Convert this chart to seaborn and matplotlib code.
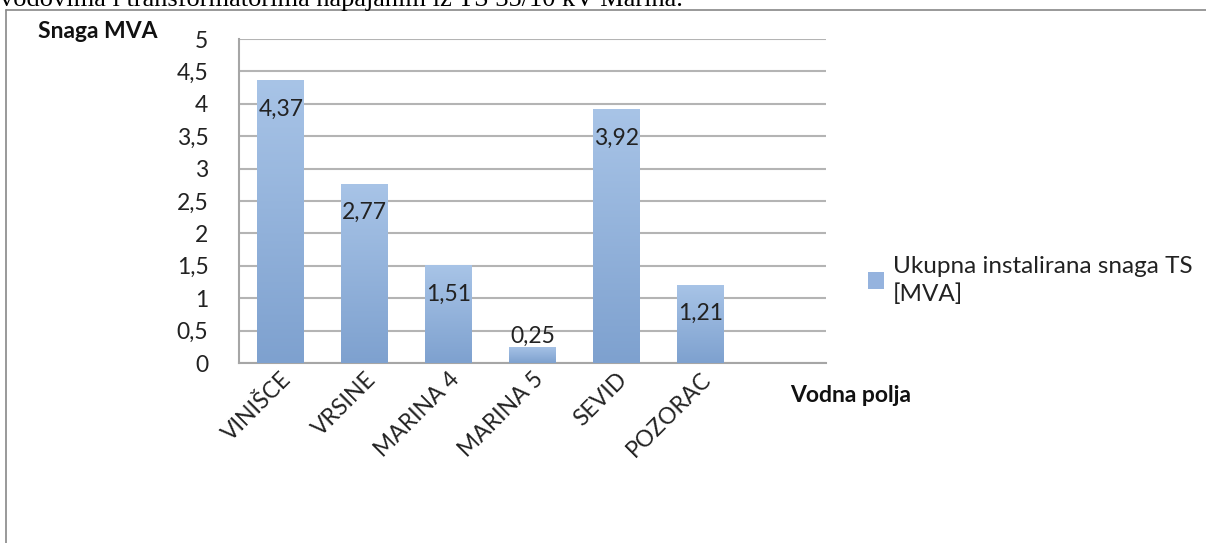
import numpy as np
import pandas as pd
import matplotlib.pyplot as plt
import seaborn as sns
from matplotlib.patches import Patch

# data
polja = ["VINIŠCE", "VRSINE", "MARINA 4", "MARINA 5", "SEVID", "POZORAC"]
snaga = [4.37, 2.77, 1.51, 0.25, 3.92, 1.21]
oznake = ["4,37", "2,77", "1,51", "0,25", "3,92", "1,21"]
y_ticks = [0, 0.5, 1, 1.5, 2, 2.5, 3, 3.5, 4, 4.5, 5]
y_labels = ["0", "0,5", "1", "1,5", "2", "2,5", "3", "3,5", "4", "4,5", "5"]
serija = "Ukupna instalirana snaga TS\n[MVA]"

sns.set_style("white")
plt.rcParams["font.family"] = ["Lato", "DejaVu Sans"]
fs = 16.5

df = pd.DataFrame({"polje": polja, "snaga": snaga})

fig = plt.figure(figsize=(12.06, 5.43), dpi=100)
ax = fig.add_axes([239 / 1206, 1 - 363 / 543, (826 - 239) / 1206, (363 - 39) / 543])

sns.barplot(data=df, x="polje", y="snaga", color="#95b3de", width=0.56,
            saturation=1, ax=ax, zorder=2)

ax.set_xlim(-0.5, 6.5)
ax.set_ylim(0, 5)
ax.set_yticks(y_ticks)
ax.set_yticklabels(y_labels, fontsize=fs, color="#222222")
ax.tick_params(axis="y", length=0, pad=22)
ax.tick_params(axis="x", length=0, pad=4)
ax.set_xticks(range(len(polja)))
ax.set_xticklabels(polja, rotation=45, ha="right", rotation_mode="anchor",
                   fontsize=fs, color="#222222")
ax.set_xlabel("")
ax.set_ylabel("")
ax.grid(axis="y", color="#b4b4b4", linewidth=1.5, zorder=0)
for s in ["top", "right"]:
    ax.spines[s].set_visible(False)
for s in ["left", "bottom"]:
    ax.spines[s].set_color("#a6a6a6")
    ax.spines[s].set_linewidth(1.5)

# vertical gradient on each bar, clipped to the bar rectangle
grad = np.linspace(0, 1, 256).reshape(-1, 1)
cmap = sns.blend_palette(["#7ea1cf", "#a8c4e7"], as_cmap=True)
for bar in ax.patches:
    x0, y0 = bar.get_x(), bar.get_y()
    w, h = bar.get_width(), bar.get_height()
    im = ax.imshow(grad, cmap=cmap, origin="lower", aspect="auto",
                   extent=[x0, x0 + w, y0, y0 + h], zorder=3)
    im.set_clip_path(bar)
    bar.set_edgecolor("none")
ax.set_xlim(-0.5, 6.5)
ax.set_ylim(0, 5)

for bar, txt, v in zip(ax.patches, oznake, snaga):
    cx = bar.get_x() + bar.get_width() / 2
    if v < 0.5:
        ax.annotate(txt, (cx, v), xytext=(0, 0), textcoords="offset points",
                    ha="center", va="bottom", fontsize=fs, color="#222222", zorder=4)
    else:
        ax.annotate(txt, (cx, v), xytext=(0, -21), textcoords="offset points",
                    ha="center", va="center", fontsize=fs, color="#222222", zorder=4)

fig.text(38 / 1206, 1 - 32 / 543, "Snaga MVA", fontsize=16.5, fontweight="bold",
         ha="left", va="center", color="#111111")
fig.text(790 / 1206, 1 - 395 / 543, "Vodna polja", fontsize=16.5, fontweight="bold",
         ha="left", va="center", color="#111111")

leg = fig.legend(handles=[Patch(facecolor="#95b3de", edgecolor="none")], labels=[serija],
                 loc="upper left", bbox_to_anchor=(858 / 1206, 1 - 246 / 543), frameon=False,
                 fontsize=17.5, handlelength=0.65, handleheight=0.65, handletextpad=0.4,
                 borderaxespad=0, labelcolor="#222222")
for t in leg.get_texts():
    t.set_linespacing(1.4)

# page frame and the cut-off document line above the chart
fig.add_artist(plt.Line2D([6 / 1206, 1], [1 - 10 / 543] * 2, color="#888888", lw=1.2))
fig.add_artist(plt.Line2D([6 / 1206] * 2, [0, 1 - 10 / 543], color="#888888", lw=1.2))
fig.text(0.0, 1 - 6 / 543, "vodovima i transformatorima napajanim iz TS 35/10 kV Marina.",
         family="Liberation Serif", fontsize=19, ha="left", va="baseline", color="black")

fig.savefig("out.png", dpi=100)
